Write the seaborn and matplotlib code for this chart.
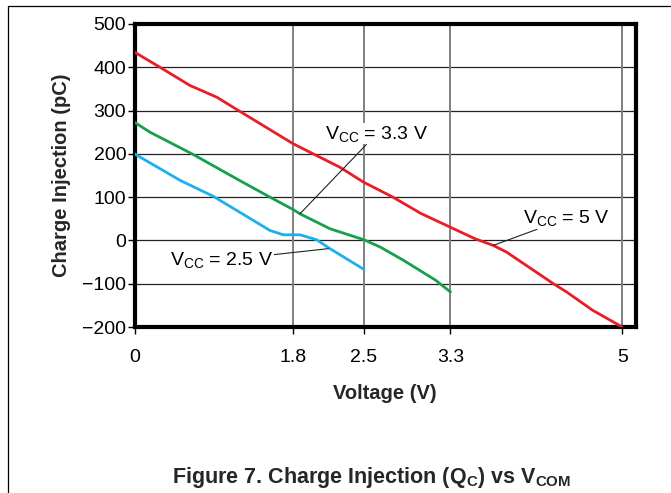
import numpy as np
import pandas as pd
import matplotlib
matplotlib.use("Agg")
import matplotlib.pyplot as plt
from matplotlib.lines import Line2D
import seaborn as sns

# ---- data (volts, pC) ----
v_5v = [0.0, 0.289, 0.628, 0.931, 1.195, 1.8, 2.031, 2.262, 2.493, 2.768, 3.029, 3.295,
        3.542, 3.723, 3.856, 4.001, 4.319, 4.449, 4.708, 5.0]
q_5v = [435, 400, 358, 331, 298, 223, 196, 169, 135, 100, 62, 31,
        4, -11.5, -27, -50, -100, -119, -161.5, -200]

v_33v = [0.0, 0.176, 0.666, 1.195, 1.535, 1.8, 1.865, 2.163, 2.295, 2.5, 2.648, 2.866,
         3.163, 3.203, 3.3]
q_33v = [273, 250, 198.5, 138, 100, 71, 61.5, 27, 17, 1.5, -15, -46, -92, -100, -119]

v_25v = [0.0, 0.515, 0.892, 1.535, 1.686, 1.865, 2.031, 2.163, 2.5]
q_25v = [200, 139, 102, 23, 13, 13, 1.5, -19, -67]

x_ticks = [0, 1.8, 2.5, 3.3, 5]
x_tick_labels = ["0", "1.8", "2.5", "3.3", "5"]
y_ticks = [-200, -100, 0, 100, 200, 300, 400, 500]

series_names = ["VCC = 5 V", "VCC = 3.3 V", "VCC = 2.5 V"]
series_colors = ["#ec1c24", "#17a04b", "#1cb0ee"]

df = pd.concat([
    pd.DataFrame({"Voltage": v_5v, "Q": q_5v, "series": series_names[0]}),
    pd.DataFrame({"Voltage": v_33v, "Q": q_33v, "series": series_names[1]}),
    pd.DataFrame({"Voltage": v_25v, "Q": q_25v, "series": series_names[2]}),
], ignore_index=True)

sns.set_theme(style="white")
plt.rcParams["font.family"] = ["Liberation Sans", "DejaVu Sans"]
plt.rcParams["mathtext.fontset"] = "custom"
plt.rcParams["mathtext.rm"] = "Liberation Sans"
plt.rcParams["mathtext.it"] = "Liberation Sans"
plt.rcParams["mathtext.bf"] = "Liberation Sans:bold"

fig = plt.figure(figsize=(6.71, 4.93), dpi=100)
fig.patch.set_facecolor("white")
ax = fig.add_axes([134.5 / 671, 1 - 327 / 493, (636 - 134.5) / 671, (327 - 24) / 493])

# piecewise-linear voltage axis as drawn in the original datasheet
knot_v = np.array([-1.0, 0.0, 1.8, 2.5, 3.3, 5.0, 6.0])
knot_p = np.array([134.5 - 88.3, 134.5, 293.4, 364.0, 450.5, 622.3, 723.4])

def fwd(v):
    return np.interp(v, knot_v, knot_p)

def inv(p):
    return np.interp(p, knot_p, knot_v)

ax.set_xscale("function", functions=(fwd, inv))

sns.lineplot(data=df, x="Voltage", y="Q", hue="series", hue_order=series_names,
             palette=series_colors, sort=False, estimator=None, linewidth=2.0,
             legend=False, ax=ax, zorder=3)

ax.set_xlim(0, 5.136)
ax.set_ylim(-200, 500)
ax.set_xticks(x_ticks)
ax.set_xticklabels(x_tick_labels)
ax.set_yticks(y_ticks)
ax.set_yticklabels([str(t).replace("-", "\u2212") for t in y_ticks])
ax.xaxis.set_minor_locator(matplotlib.ticker.NullLocator())

# grid
for yv in y_ticks[1:-1]:
    ax.axhline(yv, color="#222222", lw=0.9, zorder=1)
for xv in x_ticks[1:-1] + [5]:
    ax.axvline(xv, color="#808080", lw=1.4, zorder=1)

for s in ax.spines.values():
    s.set_visible(True)
    s.set_color("black")
    s.set_linewidth(3.0)

ax.tick_params(axis="both", which="major", direction="out", length=5, width=1.0,
               color="black", labelsize=14, labelcolor="black")
ax.tick_params(axis="y", pad=1, left=True)
ax.tick_params(axis="x", pad=11, bottom=True)

ax.set_xlabel("Voltage (V)", fontsize=14.5, fontweight="bold", labelpad=13)
ax.set_ylabel("Charge Injection (pC)", fontsize=14.5, fontweight="bold", labelpad=8)

# annotations
ann_kw = dict(fontsize=14, ha="center", va="center", color="black",
              bbox=dict(boxstyle="square,pad=0.05", fc="white", ec="none"),
              arrowprops=dict(arrowstyle="-", color="#222222", lw=0.8,
                              shrinkA=0, shrinkB=0), zorder=5)
ax.annotate(r"V$_{\mathrm{CC}}$ = 3.3 V", xy=(1.865, 61.5), xytext=(2.62, 247),
            **ann_kw)
ax.annotate(r"V$_{\mathrm{CC}}$ = 2.5 V", xy=(2.146, -19), xytext=(0.988, -46),
            **ann_kw)
ax.annotate(r"V$_{\mathrm{CC}}$ = 5 V", xy=(3.723, -11.5), xytext=(4.452, 51),
            **ann_kw)

fig.text(372 / 671, 1 - 477 / 493,
         r"Figure 7. Charge Injection (Q$_\mathbf{C}$) vs V$_\mathbf{COM}$",
         ha="center", va="center", fontsize=15.5, fontweight="bold")

# page frame (top and left rules)
fig.add_artist(Line2D([8 / 671, 1.0], [1 - 6 / 493, 1 - 6 / 493],
                      transform=fig.transFigure, color="black", lw=0.9))
fig.add_artist(Line2D([8 / 671, 8 / 671], [0.0, 1 - 6 / 493],
                      transform=fig.transFigure, color="black", lw=0.9))

fig.savefig("out.png", dpi=100, facecolor="white")
